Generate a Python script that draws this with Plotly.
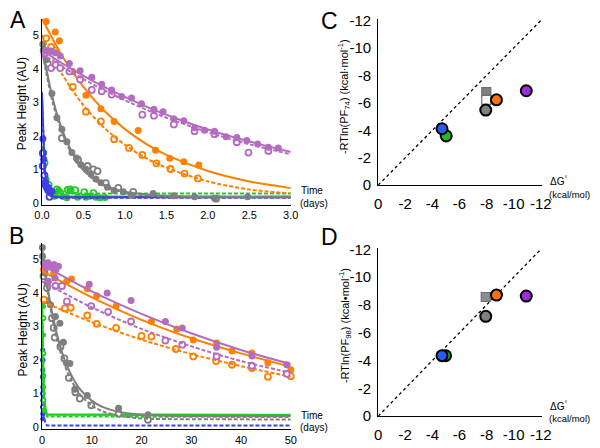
import plotly.graph_objects as go

# ---------------- Panel A (time in days, 0-3) ----------------
A_orange_f_x = [0.05, 0.16, 0.21, 0.37, 0.53, 0.71, 0.87, 1.16, 1.37, 1.54, 1.71, 1.89]
A_orange_f_y = [5.41, 5.10, 4.84, 3.92, 3.21, 2.81, 2.43, 2.16, 1.57, 1.33, 1.23, 1.13]
A_orange_o_x = [0.05, 0.11, 0.165, 0.37, 0.53, 0.71, 0.87, 1.05, 1.21, 1.38, 1.55, 1.72, 1.88]
A_orange_o_y = [4.91, 4.65, 4.54, 3.46, 2.72, 2.43, 1.90, 1.64, 1.43, 1.18, 1.01, 0.875, 0.73]
A_slow_fit_x = [0, 0.25, 0.5, 0.75, 1.0, 1.25, 1.5, 2.0, 2.5, 3.0]
A_orange_fit_s = [5.5, 4.35, 3.46, 2.75, 2.2, 1.77, 1.43, 0.95, 0.64, 0.44]
A_orange_fit_d = [5.0, 3.81, 2.91, 2.24, 1.73, 1.34, 1.05, 0.64, 0.40, 0.28]

A_purple_f_x = [0.05, 0.11, 0.16, 0.22, 0.33, 0.46, 0.60, 0.72, 0.84, 0.96, 1.08, 1.20, 1.35,
                1.46, 1.59, 1.71, 1.84, 1.96, 2.08, 2.22, 2.35, 2.47, 2.60, 2.73, 2.85]
A_purple_f_y = [4.53, 4.53, 4.48, 4.38, 4.16, 3.94, 3.75, 3.54, 3.37, 3.17, 3.13, 2.96, 2.79,
                2.72, 2.51, 2.45, 2.24, 2.17, 2.14, 1.97, 1.95, 1.86, 1.76, 1.66, 1.64]
A_purple_o_x = [0.03, 0.11, 0.165, 0.22, 0.33, 0.46, 0.60, 0.72, 0.84, 1.21, 1.35, 1.59, 1.84,
                2.08, 2.35, 2.49, 2.73]
A_purple_o_y = [4.45, 4.02, 4.12, 4.02, 3.92, 3.68, 3.37, 3.33, 3.23, 2.63, 2.60, 2.34, 2.14,
                2.05, 1.81, 1.50, 1.55]
A_purple_fit_s = [4.55, 4.15, 3.79, 3.46, 3.16, 2.88, 2.63, 2.19, 1.83, 1.52]
A_purple_fit_d = [4.45, 4.05, 3.69, 3.36, 3.06, 2.79, 2.54, 2.11, 1.75, 1.45]

A_gray_f_x = [0.01, 0.05, 0.12, 0.18, 0.24, 0.30, 0.36, 0.415, 0.47, 0.53, 0.59, 0.65, 0.71,
              0.79, 0.87, 0.98, 1.08, 1.34, 1.59, 1.84, 2.08, 2.48]
A_gray_f_y = [4.73, 4.27, 3.26, 2.54, 2.20, 1.82, 1.50, 1.34, 1.14, 1.00, 0.86, 0.71, 0.60,
              0.47, 0.37, 0.33, 0.23, 0.28, 0.21, 0.18, 0.14, 0.18]
A_gray_o_x = [0.02, 0.07, 0.24, 0.435, 0.55, 0.62, 0.67, 0.77, 0.92, 1.10, 2.10]
A_gray_o_y = [4.55, 4.15, 1.93, 1.29, 1.10, 1.00, 0.95, 0.59, 0.45, 0.33, 0.125]
A_gray_fit_x = [0, 0.05, 0.1, 0.15, 0.2, 0.3, 0.4, 0.5, 0.7, 1.0, 1.5, 2.0, 3.0]
A_gray_fit_s = [4.75, 4.04, 3.43, 2.92, 2.50, 1.83, 1.35, 1.02, 0.60, 0.33, 0.21, 0.18, 0.18]
A_gray_fit_d = [4.60, 3.90, 3.30, 2.80, 2.40, 1.75, 1.29, 0.97, 0.56, 0.30, 0.18, 0.16, 0.16]

A_blue_f_x = [0.01, 0.02, 0.04, 0.05, 0.07, 0.08, 0.10, 0.12]
A_blue_f_y = [1.91, 1.30, 0.62, 0.50, 0.37, 0.45, 0.30, 0.35]
A_blue_o_x = [0.01, 0.01, 0.03, 0.04, 0.06, 0.09]
A_blue_o_y = [1.48, 1.10, 0.82, 0.55, 0.45, 0.18]
A_blue_fit_x = [0, 0.01, 0.02, 0.03, 0.05, 0.08, 0.12, 0.2, 3.0]
A_blue_fit_s = [3.3, 2.3, 1.6, 1.15, 0.6, 0.3, 0.2, 0.17, 0.17]
A_blue_fit_d = [3.1, 2.1, 1.45, 1.0, 0.52, 0.26, 0.17, 0.15, 0.15]

A_green_f_x = [0.02, 0.05, 0.12, 0.15, 0.2, 0.255, 0.3, 0.35, 0.43, 0.53, 0.58, 0.65, 0.70, 0.76]
A_green_f_y = [1.5, 0.7, 0.27, 0.2, 0.37, 0.19, 0.15, 0.37, 0.17, 0.17, 0.2, 0.17, 0.15, 0.16]
A_green_o_x = [0.03, 0.08, 0.1, 0.18, 0.22, 0.31, 0.34, 0.40, 0.51, 0.62]
A_green_o_y = [1.2, 0.54, 0.35, 0.40, 0.30, 0.39, 0.40, 0.38, 0.32, 0.29]
A_green_fit_x = [0, 0.02, 0.04, 0.06, 0.1, 0.15, 0.25, 3.0]
A_green_fit_s = [1.7, 1.0, 0.6, 0.38, 0.24, 0.2, 0.19, 0.19]
A_green_fit_d = [1.6, 1.0, 0.65, 0.45, 0.33, 0.29, 0.28, 0.28]

# ---------------- Panel B (time in days, 0-50) ----------------
B_purple_f_x = [0.5, 0.8, 1.2, 1.3, 1.6, 2.0, 2.4, 2.6, 2.8, 3.3, 9.5, 13.1, 17.9, 24.8, 28.2, 35.1, 42.2, 49.2]
B_purple_f_y = [4.85, 4.75, 4.9, 4.35, 4.8, 4.75, 4.85, 4.45, 4.7, 4.8, 4.26, 4.0, 3.78, 3.15, 2.96, 2.38, 2.12, 1.86]
B_purple_o_x = [2.7, 4.0, 5.0, 9.9, 13.3, 17.9, 24.8, 28.2, 35.1, 42.2, 49.2]
B_purple_o_y = [4.21, 4.21, 3.75, 3.61, 3.44, 3.15, 2.58, 2.46, 2.11, 1.83, 1.59]
B_orange_f_x = [0.3, 2.35, 4.96, 5.95, 9.1, 11.0, 14.9, 22.0, 27.1, 30.4, 35.1, 38.2, 42.2, 45.4, 50.0]
B_orange_f_y = [4.7, 4.59, 4.35, 4.42, 4.13, 3.92, 3.61, 3.15, 2.93, 2.60, 2.51, 2.27, 2.21, 1.92, 1.71]
B_orange_o_x = [0.4, 4.6, 5.75, 9.1, 11.0, 14.9, 20.0, 22.0, 26.9, 30.4, 35.0, 38.2, 42.2, 45.4, 50.0]
B_orange_o_y = [3.8, 3.54, 3.56, 3.33, 3.08, 2.96, 2.72, 2.70, 2.33, 2.11, 1.97, 1.86, 1.76, 1.50, 1.52]
B_slow_fit_x = [0, 10, 20, 30, 40, 50]
B_purple_fit_s = [4.85, 4.05, 3.38, 2.80, 2.30, 1.88]
B_purple_fit_d = [4.35, 3.57, 2.93, 2.41, 1.97, 1.62]
B_orange_fit_s = [4.65, 3.87, 3.20, 2.65, 2.20, 1.80]
B_orange_fit_d = [3.75, 3.13, 2.61, 2.18, 1.82, 1.50]

B_gray_f_x = [0.07, 0.1, 0.3, 0.6, 1.0, 1.7, 2.7, 3.6, 4.3, 5.0, 5.6, 6.6, 9.1, 15.4, 21.3]
B_gray_f_y = [5.36, 5.1, 4.9, 4.6, 4.3, 3.65, 3.3, 3.1, 2.53, 1.9, 1.9, 1.13, 0.94, 0.56, 0.37]
B_gray_o_x = [0.3, 0.6, 1.0, 2.0, 2.35, 2.55, 3.7, 4.5, 5.4, 6.7, 7.6, 9.9, 15.4, 21.3]
B_gray_o_y = [4.5, 3.78, 4.15, 3.25, 2.96, 2.67, 2.4, 2.05, 1.47, 1.04, 0.85, 0.65, 0.40, 0.22]
B_gray_fit_x = [0, 1, 2, 3, 4, 5, 6, 7, 8, 10, 12, 15, 20, 25, 50]
B_gray_fit_s = [5.35, 4.28, 3.44, 2.77, 2.25, 1.84, 1.52, 1.26, 1.07, 0.79, 0.61, 0.47, 0.37, 0.34, 0.33]
B_gray_fit_d = [5.30, 4.18, 3.31, 2.62, 2.10, 1.68, 1.36, 1.11, 0.91, 0.65, 0.48, 0.35, 0.26, 0.24, 0.23]

B_green_f_x = [0.3, 0.3, 0.3, 0.3, 0.3]
B_green_f_y = [3.6, 2.75, 1.55, 1.2, 0.5]
B_green_o_x = [0.3, 0.3, 0.3]
B_green_o_y = [3.25, 2.2, 0.8]
B_fast_fit_x = [0, 0.1, 0.2, 0.4, 0.7, 1.0, 50]
B_green_fit_s = [3.75, 2.6, 1.8, 0.9, 0.5, 0.38, 0.36]
B_green_fit_d = [3.6, 2.5, 1.7, 0.85, 0.45, 0.32, 0.30]
B_blue_f_x = [0.15, 0.15, 0.15, 0.15, 0.15, 0.15]
B_blue_f_y = [2.3, 1.7, 1.2, 0.8, 0.4, 0.25]
B_blue_o_x = [0.15, 0.15, 0.15, 0.15]
B_blue_o_y = [2.0, 1.5, 1.0, 0.6]
B_blue_fit_d = [2.4, 1.5, 0.9, 0.35, 0.1, 0.05, 0.05]

# ---------------- Panels C and D ----------------
dG_x = [-4.71, -5.02, -7.94, -8.73, -10.93]          # blue, green, gray, orange, purple
C_y = [-4.11, -3.59, -5.47, -6.22, -6.88]
D_x = [-4.71, -4.97, -7.94, -8.73, -10.93]
D_y = [-4.35, -4.35, -7.18, -8.71, -8.64]
C_sq_x = [-7.98, -7.98]
C_sq_y = [-6.78, -6.22]
D_sq_x = [-7.94]
D_sq_y = [-8.57]
diag = [0, -12]
axis_ticks = [0, -2, -4, -6, -8, -10, -12]
axis_tick_text = ["0", "-2", "-4", "-6", "-8", "-10", "-12"]

ORANGE = "#FF8000"
PURPLE = "#B46CC0"
GRAY = "#7F7F7F"
BLUE = "#3F3FE6"
GREEN = "#22CC22"
PURPLE2 = "#9B2FD3"
BLUE2 = "#2B5BF0"
GREEN2 = "#22BB22"
GRAY2 = "#808080"
ORANGE2 = "#FF7010"

FONT = "Liberation Sans, Arial, sans-serif"
W, H = 600, 448

fig = go.Figure()


def fit(x, y, color, dash, xa, ya, shape="spline", width=2):
    fig.add_trace(go.Scatter(x=x, y=y, mode="lines", xaxis=xa, yaxis=ya,
                             line=dict(color=color, width=width, dash=dash, shape=shape,
                                       smoothing=0.8),
                             showlegend=False, hoverinfo="skip"))


def pts(x, y, color, filled, xa, ya, size=7):
    if filled:
        m = dict(color=color, size=size, line=dict(width=0))
    else:
        m = dict(color="white", size=size - 1, line=dict(color=color, width=1.8))
    fig.add_trace(go.Scatter(x=x, y=y, mode="markers", xaxis=xa, yaxis=ya, marker=m,
                             cliponaxis=False, showlegend=False))


# Panel A
for (fx, fy, ox, oy, xs, s, d, c, shp) in [
    (A_green_f_x, A_green_f_y, A_green_o_x, A_green_o_y, A_green_fit_x, A_green_fit_s, A_green_fit_d, GREEN, "linear"),
    (A_blue_f_x, A_blue_f_y, A_blue_o_x, A_blue_o_y, A_blue_fit_x, A_blue_fit_s, A_blue_fit_d, BLUE, "linear"),
    (A_gray_f_x, A_gray_f_y, A_gray_o_x, A_gray_o_y, A_gray_fit_x, A_gray_fit_s, A_gray_fit_d, GRAY, "spline"),
    (A_orange_f_x, A_orange_f_y, A_orange_o_x, A_orange_o_y, A_slow_fit_x, A_orange_fit_s, A_orange_fit_d, ORANGE, "spline"),
    (A_purple_f_x, A_purple_f_y, A_purple_o_x, A_purple_o_y, A_slow_fit_x, A_purple_fit_s, A_purple_fit_d, PURPLE, "spline"),
]:
    pts(ox, oy, c, False, "x", "y")
    pts(fx, fy, c, True, "x", "y")
    fit(xs, d, c, "4px,2px", "x", "y", shp)
    fit(xs, s, c, "solid", "x", "y", shp)

# Panel B
fit(B_fast_fit_x, B_blue_fit_d, BLUE, "4px,2px", "x2", "y2", "linear")
pts(B_blue_o_x, B_blue_o_y, BLUE, False, "x2", "y2", 5)
pts(B_blue_f_x, B_blue_f_y, BLUE, True, "x2", "y2", 5)
fit(B_fast_fit_x, B_green_fit_d, GREEN, "4px,2px", "x2", "y2", "linear")
fit(B_fast_fit_x, B_green_fit_s, GREEN, "solid", "x2", "y2", "linear", 2.5)
pts(B_green_o_x, B_green_o_y, GREEN, False, "x2", "y2", 5)
pts(B_green_f_x, B_green_f_y, GREEN, True, "x2", "y2", 5)
for (fx, fy, ox, oy, xs, s, d, c) in [
    (B_gray_f_x, B_gray_f_y, B_gray_o_x, B_gray_o_y, B_gray_fit_x, B_gray_fit_s, B_gray_fit_d, GRAY),
    (B_orange_f_x, B_orange_f_y, B_orange_o_x, B_orange_o_y, B_slow_fit_x, B_orange_fit_s, B_orange_fit_d, ORANGE),
    (B_purple_f_x, B_purple_f_y, B_purple_o_x, B_purple_o_y, B_slow_fit_x, B_purple_fit_s, B_purple_fit_d, PURPLE),
]:
    pts(ox, oy, c, False, "x2", "y2")
    pts(fx, fy, c, True, "x2", "y2")
    fit(xs, d, c, "4px,2px", "x2", "y2")
    fit(xs, s, c, "solid", "x2", "y2")

# Panels C and D
for (xa, ya, xs, ys, sqx, sqy, sqcolors) in [
    ("x3", "y3", dG_x, C_y, C_sq_x, C_sq_y, [GRAY2, "white"]),
    ("x4", "y4", D_x, D_y, D_sq_x, D_sq_y, ["#8C8C8C"]),
]:
    fig.add_trace(go.Scatter(x=diag, y=diag, mode="lines", xaxis=xa, yaxis=ya,
                             line=dict(color="black", width=1.3, dash="dot"),
                             showlegend=False, hoverinfo="skip"))
    fig.add_trace(go.Scatter(x=sqx, y=sqy, mode="markers", xaxis=xa, yaxis=ya,
                             marker=dict(symbol="square", size=9, color=sqcolors,
                                         line=dict(color="#6E6E6E", width=1.2)),
                             cliponaxis=False, showlegend=False))
    order = [1, 0, 2, 3, 4]  # green first so blue sits on top
    fig.add_trace(go.Scatter(x=[xs[i] for i in order], y=[ys[i] for i in order],
                             mode="markers", xaxis=xa, yaxis=ya,
                             marker=dict(symbol="circle", size=11,
                                         color=[[BLUE2, GREEN2, GRAY2, ORANGE2, PURPLE2][i] for i in order],
                                         line=dict(color="black", width=2)),
                             cliponaxis=False, showlegend=False))


def px2x(px):
    return px / W


def py2y(py):
    return 1 - py / H


common = dict(showgrid=False, zeroline=False, showline=True, linecolor="black",
              linewidth=1, ticks="", tickfont=dict(family=FONT, size=11, color="black"))

cd_axis = dict(showgrid=False, zeroline=False, showline=True, linecolor="black",
               linewidth=1, ticks="", tickvals=axis_ticks, ticktext=axis_tick_text,
               tickfont=dict(family=FONT, size=15, color="black"))

fig.update_layout(
    width=W, height=H, margin=dict(l=0, r=0, t=0, b=0),
    paper_bgcolor="white", plot_bgcolor="white",
    font=dict(family=FONT, color="black"),
    xaxis=dict(domain=[px2x(35), px2x(291)], range=[0, 3.0], tickvals=[0, 0.5, 1, 1.5, 2, 2.5, 3],
               tickformat=".1f", anchor="y", **common),
    yaxis=dict(domain=[py2y(205.1), py2y(11.9)], range=[-0.07, 5.5], tickvals=[0, 1, 2, 3, 4, 5],
               anchor="x", **common),
    xaxis2=dict(domain=[px2x(35), px2x(291)], range=[0, 50], tickvals=[0, 10, 20, 30, 40, 50],
                anchor="y2", **common),
    yaxis2=dict(domain=[py2y(437.1), py2y(243.9)], range=[-0.07, 5.5], tickvals=[0, 1, 2, 3, 4, 5],
                anchor="x2", **common),
    xaxis3=dict(domain=[px2x(381), px2x(549.7)], range=[0, -12.1], anchor="y3",
                ticklabelstandoff=5, **cd_axis),
    yaxis3=dict(domain=[py2y(184.3), py2y(12.6)], range=[0, -12.1], anchor="x3",
                ticklabelstandoff=3, **cd_axis),
    xaxis4=dict(domain=[px2x(381), px2x(549.7)], range=[0, -12.1], anchor="y4",
                ticklabelstandoff=5, **cd_axis),
    yaxis4=dict(domain=[py2y(423.3), py2y(249.3)], range=[0, -12.1], anchor="x4",
                ticklabelstandoff=3, **cd_axis),
)


def ann(text, px, py, size=11, angle=0, xanchor="center"):
    fig.add_annotation(text=text, x=px2x(px), y=py2y(py), xref="paper", yref="paper",
                       showarrow=False, textangle=angle, xanchor=xanchor, yanchor="middle",
                       font=dict(family=FONT, size=size, color="black"))


ann("A", 10, 13, 23)
ann("B", 9, 237, 23)
ann("C", 331, 14, 23)
ann("D", 331, 238, 23)
ann("Peak Height (AU)", 14, 100, 12, -90)
ann("Peak Height (AU)", 15, 334, 12, -90)
ann("-RTln(PF<sub>74</sub>) (kcal·mol<sup>-1</sup>)", 346, 93, 11, -90)
ann("-RTln(PF<sub>98</sub>) (kcal•mol<sup>-1</sup>)", 347, 330, 11, -90)
ann("Time", 299, 190, 10, 0, "left")
ann("(days)", 298, 203, 10, 0, "left")
ann("Time", 299, 423, 10, 0, "left")
ann("(days)", 298, 435, 10, 0, "left")
ann("ΔG<sup>°</sup>", 556, 180, 10, 0, "left")
ann("(kcal/mol)", 555, 194, 9.5, 0, "left")
ann("ΔG<sup>°</sup>", 556, 413, 10, 0, "left")
ann("(kcal/mol)", 555, 426, 9.5, 0, "left")

fig.write_html("out.html", config={"displayModeBar": False},
               post_script="document.documentElement.style.margin='0';"
                           "document.body.style.margin='0';"
                           "document.body.style.overflow='hidden';")
